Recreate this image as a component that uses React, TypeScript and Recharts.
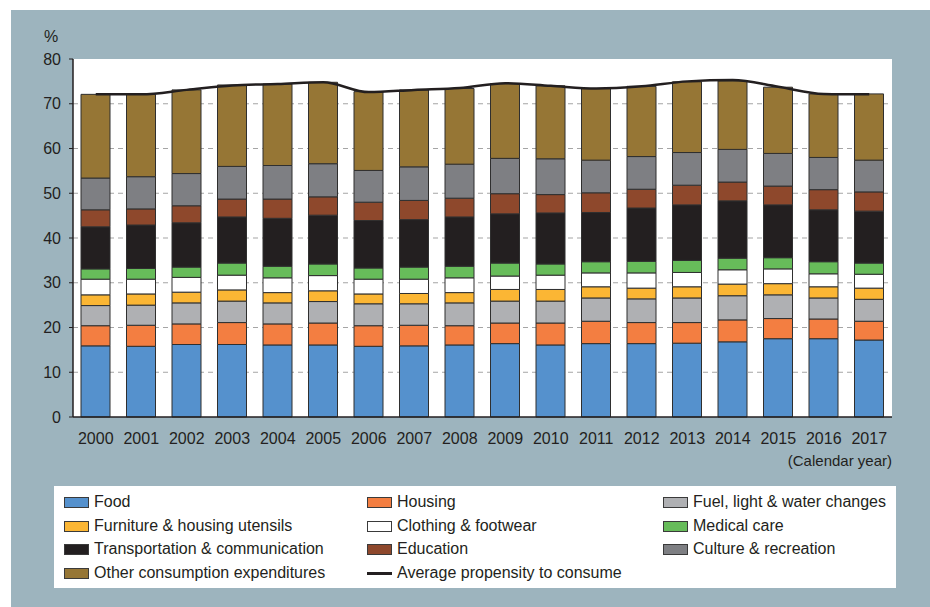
import React from 'react';
import {
  ComposedChart,
  Bar,
  Line,
  XAxis,
  YAxis,
  CartesianGrid
} from 'recharts';

const years = [
  '2000', '2001', '2002', '2003', '2004', '2005', '2006', '2007', '2008',
  '2009', '2010', '2011', '2012', '2013', '2014', '2015', '2016', '2017'
];

// share of disposable income, %
const food = [15.9, 15.8, 16.2, 16.2, 16.1, 16.1, 15.8, 15.9, 16.1, 16.4, 16.1, 16.4, 16.4, 16.5, 16.8, 17.5, 17.5, 17.2];
const housing = [4.5, 4.7, 4.6, 4.9, 4.7, 4.9, 4.6, 4.6, 4.3, 4.6, 4.9, 5.0, 4.7, 4.6, 4.9, 4.5, 4.4, 4.2];
const fuel = [4.5, 4.5, 4.7, 4.8, 4.7, 4.8, 4.9, 4.8, 5.1, 4.9, 4.9, 5.2, 5.3, 5.5, 5.4, 5.3, 4.7, 4.9];
const furniture = [2.4, 2.5, 2.4, 2.5, 2.3, 2.4, 2.2, 2.3, 2.3, 2.6, 2.6, 2.5, 2.4, 2.5, 2.6, 2.5, 2.5, 2.5];
const clothing = [3.5, 3.3, 3.3, 3.3, 3.3, 3.4, 3.3, 3.2, 3.3, 3.0, 3.2, 3.1, 3.4, 3.2, 3.2, 3.3, 2.9, 3.1];
const medical = [2.3, 2.4, 2.3, 2.7, 2.6, 2.6, 2.5, 2.7, 2.6, 2.9, 2.5, 2.5, 2.6, 2.7, 2.6, 2.5, 2.7, 2.5];
const transport = [9.4, 9.7, 9.9, 10.3, 10.7, 10.9, 10.6, 10.6, 11.0, 11.0, 11.4, 11.0, 11.9, 12.4, 12.8, 11.8, 11.6, 11.6];
const education = [3.8, 3.6, 3.8, 4.0, 4.3, 4.1, 4.1, 4.3, 4.2, 4.5, 4.1, 4.4, 4.2, 4.4, 4.2, 4.2, 4.5, 4.3];
const culture = [7.1, 7.2, 7.2, 7.3, 7.5, 7.4, 7.1, 7.5, 7.6, 7.9, 8.0, 7.3, 7.3, 7.3, 7.3, 7.3, 7.2, 7.1];
const other = [18.7, 18.4, 18.7, 18.2, 18.2, 18.2, 17.6, 17.2, 16.9, 16.7, 16.3, 16.0, 15.7, 15.8, 15.3, 14.8, 14.2, 14.8];
const propensity = [72.1, 72.1, 73.1, 74.1, 74.4, 74.8, 72.6, 73.1, 73.5, 74.6, 74.0, 73.4, 73.9, 75.0, 75.3, 73.8, 72.2, 72.1];

const yTicks = [0, 10, 20, 30, 40, 50, 60, 70, 80];
const gridValues = [10, 20, 30, 40, 50, 60, 70];

const series = [
  { key: 'food', name: 'Food', color: '#5591cd', values: food },
  { key: 'housing', name: 'Housing', color: '#f37e41', values: housing },
  { key: 'fuel', name: 'Fuel, light & water changes', color: '#afb0b3', values: fuel },
  { key: 'furniture', name: 'Furniture & housing utensils', color: '#fbb634', values: furniture },
  { key: 'clothing', name: 'Clothing & footwear', color: '#ffffff', values: clothing },
  { key: 'medical', name: 'Medical care', color: '#67bc5a', values: medical },
  { key: 'transport', name: 'Transportation & communication', color: '#231f20', values: transport },
  { key: 'education', name: 'Education', color: '#8e482c', values: education },
  { key: 'culture', name: 'Culture & recreation', color: '#7e7f83', values: culture },
  { key: 'other', name: 'Other consumption expenditures', color: '#967635', values: other }
];

const data = years.map((year, i) => {
  const row: any = { year, propensity: propensity[i] };
  series.forEach((s) => {
    row[s.key] = s.values[i];
  });
  return row;
});

const FONT = '"Liberation Sans", Arial, Helvetica, sans-serif';
const INK = '#231f20';

// legend order as in the source, laid out in 3 columns
const legendItems = [
  ...series.map((s) => ({ name: s.name, color: s.color, line: false })),
  { name: 'Average propensity to consume', color: INK, line: true }
];
const colX = [10, 313, 609];
const rowY = [16, 40, 63, 87];

const LegendBox = () => (
  <div
    style={{
      position: 'absolute',
      left: 54,
      top: 486,
      width: 842,
      height: 102,
      background: '#fff',
      fontFamily: FONT,
      fontSize: 16,
      color: INK
    }}
  >
    {legendItems.map((item, i) => {
      const col = i % 3;
      const row = Math.floor(i / 3);
      return (
        <div
          key={item.name}
          style={{
            position: 'absolute',
            left: colX[col],
            top: rowY[row] - 10,
            height: 20,
            display: 'flex',
            alignItems: 'center',
            whiteSpace: 'nowrap'
          }}
        >
          {item.line ? (
            <span style={{ width: 25, height: 3, background: INK, marginRight: 5 }} />
          ) : (
            <span
              style={{
                width: 23,
                height: 9,
                background: item.color,
                border: '1px solid #3a3a3a',
                marginRight: 5
              }}
            />
          )}
          <span>{item.name}</span>
        </div>
      );
    })}
  </div>
);

const App = () => {
  return (
    <div
      style={{
        position: 'absolute',
        left: 0,
        top: 0,
        width: 930,
        height: 607,
        background: '#fff',
        overflow: 'hidden',
        fontFamily: FONT
      }}
    >
      {/* clipped title from the page above */}
      <div
        style={{
          position: 'absolute',
          left: 40,
          top: -29,
          fontSize: 24,
          fontWeight: 'bold',
          color: '#111',
          whiteSpace: 'nowrap'
        }}
      >
        Changing spending patterns by category
      </div>
      <div
        style={{
          position: 'absolute',
          left: 11,
          top: 10,
          width: 919,
          height: 597,
          background: '#9db4be'
        }}
      />
      <div
        style={{
          position: 'absolute',
          left: 44,
          top: 28,
          fontSize: 16,
          color: INK
        }}
      >
        %
      </div>
      <div style={{ position: 'absolute', left: 0, top: 0 }}>
        <ComposedChart
          width={930}
          height={450}
          data={data}
          margin={{ top: 59, right: 38, left: 0, bottom: 3 }}
        >
          <CartesianGrid
            vertical={false}
            horizontalValues={gridValues}
            stroke="#a5a5a5"
            strokeDasharray="5 4"
            fill="#ffffff"
            fillOpacity={1}
          />
          <XAxis
            dataKey="year"
            axisLine={{ stroke: INK, strokeWidth: 1.5 }}
            tickLine={false}
            tickSize={6}
            tickMargin={10}
            height={30}
            interval={0}
            tick={{ fill: INK, fontSize: 16, fontFamily: FONT }}
          />
          <YAxis
            width={73}
            domain={[0, 80]}
            ticks={yTicks}
            interval={0}
            axisLine={{ stroke: INK, strokeWidth: 1.5 }}
            tickLine={{ stroke: INK }}
            tickSize={4}
            tickMargin={8}
            tick={{ fill: INK, fontSize: 16, fontFamily: FONT }}
          />
          {series.map((s) => (
            <Bar
              key={s.key}
              dataKey={s.key}
              name={s.name}
              stackId="spend"
              fill={s.color}
              stroke="#2f2f2f"
              strokeWidth={1}
              barSize={29}
              isAnimationActive={false}
            />
          ))}
          <Line
            type="monotone"
            dataKey="propensity"
            name="Average propensity to consume"
            stroke={INK}
            strokeWidth={2.5}
            dot={false}
            activeDot={false}
            isAnimationActive={false}
          />
        </ComposedChart>
      </div>
      <div
        style={{
          position: 'absolute',
          right: 38,
          top: 452,
          fontSize: 15,
          color: INK
        }}
      >
        (Calendar year)
      </div>
      <LegendBox />
    </div>
  );
};

export default App;
